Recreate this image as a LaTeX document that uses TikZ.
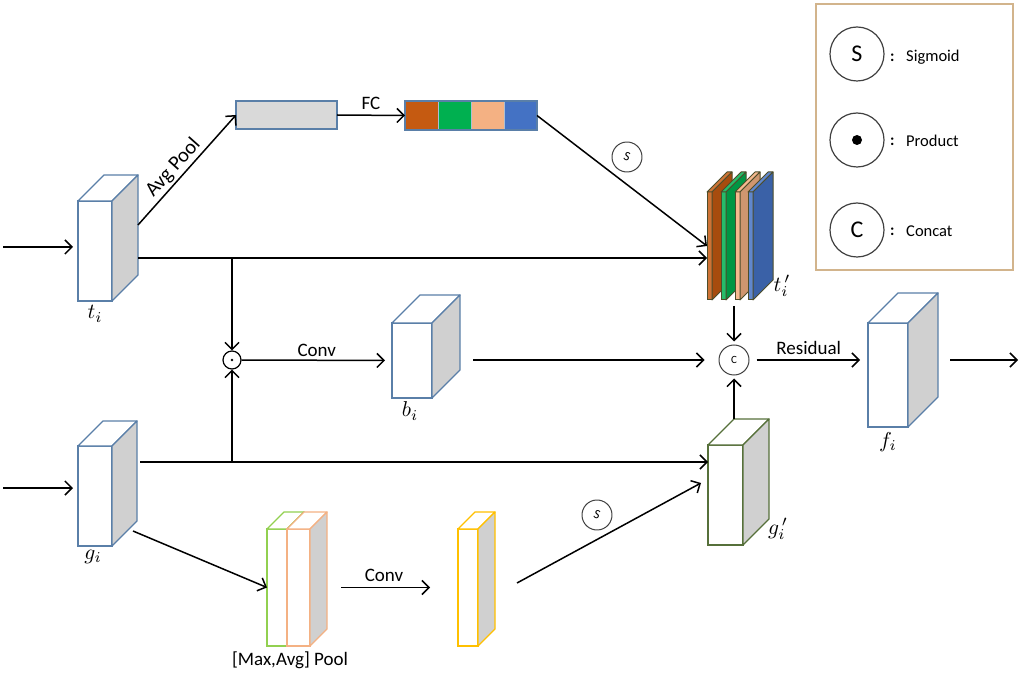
\documentclass[tikz,border=0pt]{standalone}
\usepackage{fontspec}
\setmainfont{Carlito}
\usetikzlibrary{arrows.meta,calc}
\definecolor{boxblue}{HTML}{5A7FA8}
\definecolor{sidegray}{HTML}{D0D0D0}
\definecolor{gapgray}{HTML}{D9D9D9}
\definecolor{cOrange}{HTML}{C55A11}
\definecolor{cGreen}{HTML}{00B050}
\definecolor{cPeach}{HTML}{F4B183}
\definecolor{cBlue}{HTML}{4472C4}
\definecolor{legtan}{HTML}{D2B48C}
\definecolor{darkgreen}{HTML}{56703A}
\definecolor{poolgreen}{HTML}{92D050}
\definecolor{poolpeach}{HTML}{F4B183}
\definecolor{gold}{HTML}{FFC000}
\definecolor{slabedge}{HTML}{4D4D2A}
\definecolor{ringgray}{HTML}{404040}

\newcommand{\cubo}[8]{%
  \node[draw=#7, fill=white, line width=1.3pt, minimum width=#4pt, minimum height=#5pt,
        anchor=north west, inner sep=0pt, outer sep=0pt] (#1) at (#2,#3) {};
  \draw[draw=#7, fill=white, line width=1.3pt, line join=round]
    (#1.north west) -- ++(#6,-#6) -- ++(#4,0) -- (#1.north east) -- cycle;
  \draw[draw=#7, fill=#8, line width=1.3pt, line join=round]
    (#1.north east) -- ++(#6,-#6) -- ++(0,#5) -- (#1.south east) -- cycle;
}
\newcommand{\slab}[4]{%
  \node[draw=slabedge, fill=#3, line width=1pt, minimum width=5pt, minimum height=108pt,
        anchor=north west, inner sep=0pt, outer sep=0pt] (#1) at (#2,192) {};
  \draw[draw=slabedge, fill=#3, line width=1pt, line join=round]
    (#1.north west) -- ++(20,-20) -- ++(5,0) -- (#1.north east) -- cycle;
  \draw[draw=slabedge, fill=#4, line width=1pt, line join=round]
    (#1.north east) -- ++(20,-20) -- ++(0,108) -- (#1.south east) -- cycle;
}
\newcommand{\bigmath}[1]{\scalebox{2.15}{$#1$}}

\begin{document}
\begin{tikzpicture}[x=1pt,y=-1pt,
  arr/.style={-{Straight Barb[length=7pt,width=14pt]}, line width=1.5pt},
  plain/.style={line width=1.5pt},
  lbl/.style={font=\fontsize{19}{21}\selectfont, inner sep=2pt},
  mlbl/.style={inner sep=0pt},
  sigc/.style={circle, draw=ringgray, line width=1pt, minimum size=30pt, inner sep=0pt,
               font=\fontsize{13}{13}\selectfont},
  legc/.style={circle, draw=ringgray, line width=1.2pt, minimum size=54pt, inner sep=0pt,
               font=\fontsize{24}{24}\selectfont},
  legt/.style={anchor=west, font=\fontsize{16.5}{18}\selectfont, inner sep=0pt},
  cell/.style={anchor=north west, minimum width=33pt, minimum height=29pt, inner sep=0pt,
               outer sep=0pt, draw=boxblue!50, line width=0.6pt}]
\useasboundingbox (0,0) rectangle (1026,676);

% ---------------- boxes ----------------
\cubo{ti}{78}{201}{34}{100}{26}{boxblue}{sidegray}
\cubo{gi}{78}{446}{34}{100}{25}{boxblue}{sidegray}
\cubo{bi}{392}{323}{40}{75}{28}{boxblue}{sidegray}
\cubo{fi}{868}{323}{40}{104}{30}{boxblue}{sidegray}
\cubo{gpi}{708}{445}{35}{100}{26}{darkgreen}{sidegray}
\cubo{pg}{267}{529}{20}{117}{17}{poolgreen}{sidegray}
\cubo{pp}{287}{529}{23}{117}{17}{poolpeach}{sidegray}
\cubo{yl}{458}{529}{20}{117}{17}{gold}{sidegray}

% gray vector after avg pool
\node[draw=boxblue, fill=gapgray, line width=1.3pt, minimum width=101pt, minimum height=28pt,
      anchor=north west, inner sep=0pt, outer sep=0pt] (gap) at (236,101) {};
% colour bar after FC
\node[cell, fill=cOrange] (c1) at (405,101) {};
\node[cell, fill=cGreen]  (c2) at (438,101) {};
\node[cell, fill=cPeach]  (c3) at (471,101) {};
\node[cell, fill=cBlue]   (c4) at (504,101) {};
\node[draw=boxblue, line width=1.3pt, minimum width=132pt, minimum height=29pt,
      anchor=north west, inner sep=0pt, outer sep=0pt] (bar) at (405,101) {};

% t'_i slabs
\slab{tp1}{707}{cOrange!85!white}{cOrange!85!black}
\slab{tp2}{721}{cGreen!85!white}{cGreen!85!black}
\slab{tp3}{735}{cPeach!90!white}{cPeach!85!black}
\slab{tp4}{748}{cBlue!85!white}{cBlue!85!black}

% operators
\node[circle, draw=black, line width=1.2pt, minimum size=18pt, inner sep=0pt] (prod) at (232,360) {};
\fill (prod.center) circle (1.3pt);
\node[sigc, font=\fontsize{11}{11}\selectfont] (cc) at (734,360) {C};
\node[sigc, rotate=-20] (sg1) at (627,157) {S};
\node[sigc, rotate=-20] (sg2) at (597,515) {S};

% ---------------- labels ----------------
\node[mlbl] (lti) at (95,314) {\bigmath{t_i}};
\node[mlbl] (lgi) at (93,557) {\bigmath{g_i}};
\node[mlbl] (lbi) at (410,411) {\bigmath{b_i}};
\node[mlbl] (lfi) at (888,442) {\bigmath{f_i}};
\node[mlbl] (lgpi) at (778,529) {\bigmath{g^{\,\prime}_{i}}};
\node[mlbl] (ltpi) at (782,286) {\bigmath{t^{\,\prime}_{i}}};
\node[lbl] (lpool) at (290,660) {[Max,Avg] Pool};

% ---------------- named free ends ----------------
\coordinate (in1) at (3,247);
\coordinate (in2) at (3,488);
\coordinate (tiout) at (138,258);
\coordinate (tiap) at (138,225);
\coordinate (giout) at (140,462);
\coordinate (gipl) at (133,531);
\coordinate (j1) at (232,258);
\coordinate (j2) at (232,462);
\coordinate (tpb) at (734,306);
\coordinate (gpitop) at (734,419);
\coordinate (ylout) at (517,583);
\coordinate (gpiin) at (701,483);
\coordinate (fiout) at (950,360);
\coordinate (outend) at (1018,360);

% ---------------- connectors ----------------
\draw[arr, shorten >=5pt] (in1) -- (in1 -| ti.west);
\draw[arr, shorten >=5pt] (in2) -- (in2 -| gi.west);
\draw[arr] (tiap) -- (gap.west)
  node[lbl, font=\fontsize{20.5}{22}\selectfont, pos=0.45, above, sloped] {Avg Pool};
\draw[arr] (gap.east) -- (bar.west) node[lbl, midway, above=3pt] {FC};
\draw[arr] (bar.east) -- (tp1.west);
\draw[arr] (tiout) -- (tiout -| tp1.west);
\draw[arr] (j1) -- (prod.north);
\draw[plain] (giout) -- (j2);
\draw[arr] (giout) -- (giout -| gpi.west);
\draw[arr] (j2) -- (prod.south);
\draw[arr, shorten >=7pt] (prod.east) -- (bi.west) node[lbl, midway, above=1pt] {Conv};
\draw[arr, shorten <=41pt, shorten >=14pt] (bi.east |- cc.west) -- (cc.west);
\draw[arr, shorten >=3pt] (tpb) -- (cc.north);
\draw[arr, shorten >=3pt] (gpitop) -- (cc.south);
\draw[arr, shorten <=7pt, shorten >=8pt] (cc.east) -- (cc.east -| fi.west)
  node[lbl, midway, above=3pt] {Residual};
\draw[arr] (fiout) -- (outend);
\draw[arr] (gipl) -- (pg.west);
\draw[arr, shorten <=31pt, shorten >=28pt] (pp.east) -- (yl.west)
  node[lbl, midway, above=3pt] {Conv};
\draw[arr] (ylout) -- (gpiin);

% ---------------- legend ----------------
\node[draw=legtan, line width=1.3pt, minimum width=197pt, minimum height=266pt,
      anchor=north west, inner sep=0pt, outer sep=0pt] (legend) at (816,4) {};
\node[legc] (ls) at (857,54) {S};
\node[legc] (lp) at (857,140) {};
\fill (lp.center) circle (5pt);
\node[legc] (lc) at (857,230) {C};
\node[legt, font=\fontsize{16}{16}\selectfont\bfseries] (k1) at (890,58) {:};
\node[legt, font=\fontsize{16}{16}\selectfont\bfseries] (k2) at (890,142) {:};
\node[legt, font=\fontsize{16}{16}\selectfont\bfseries] (k3) at (890,232) {:};
\node[legt] (t1) at (906,57) {Sigmoid};
\node[legt] (t2) at (906,141) {Product};
\node[legt] (t3) at (906,231) {Concat};
\end{tikzpicture}
\end{document}
